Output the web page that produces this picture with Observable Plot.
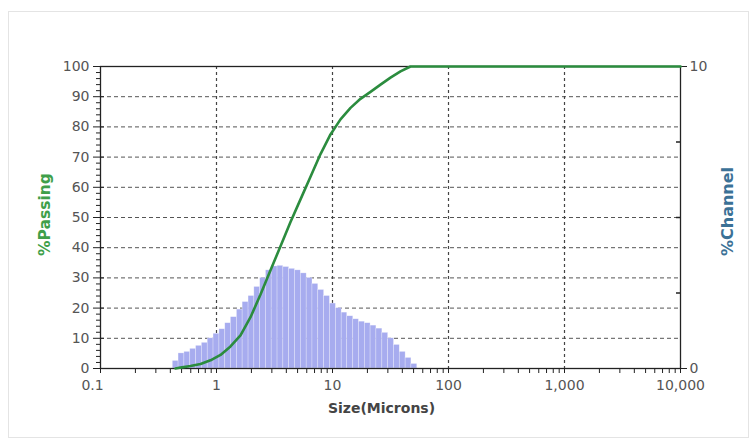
<!DOCTYPE html>
<html>
<head>
<meta charset="utf-8">
<script src="https://cdn.jsdelivr.net/npm/d3@7"></script>
<script src="https://cdn.jsdelivr.net/npm/@observablehq/plot@0.6"></script>
<style>
  html, body { margin: 0; padding: 0; background: #fff; }
  #chart { position: relative; width: 753px; height: 445px; }
  #chart .border { position: absolute; left: 8px; top: 11px; width: 739px; height: 425px; border: 1px solid #e4e4e4; }
  #chart svg { position: absolute; left: 0; top: 0; }
</style>
</head>
<body>
<div id="chart"><div class="border"></div></div>
<script>
// Channel boundaries (microns) for the particle size distribution
const channelEdges = [
  0.42, 0.471, 0.529, 0.594, 0.667, 0.748, 0.84, 0.943, 1.06, 1.19,
  1.33, 1.50, 1.68, 1.89, 2.12, 2.38, 2.67, 2.99, 3.36, 3.77,
  4.23, 4.75, 5.33, 5.99, 6.72, 7.54, 8.47, 9.50, 10.7, 12.0,
  13.4, 15.1, 16.9, 19.0, 21.3, 23.9, 26.9, 30.2, 33.9, 38.0,
  42.7, 47.9, 53.8
];
// % in each channel (right axis, 0-10)
const channelPercent = [
  0.25, 0.5, 0.55, 0.65, 0.75, 0.85, 1.0, 1.15, 1.3, 1.5,
  1.7, 1.95, 2.2, 2.4, 2.7, 3.0, 3.25, 3.38, 3.4, 3.36,
  3.3, 3.25, 3.15, 3.0, 2.8, 2.6, 2.4, 2.15, 2.0, 1.85,
  1.73, 1.63, 1.55, 1.5, 1.42, 1.32, 1.18, 1.0, 0.78, 0.55,
  0.35, 0.15
];
// Cumulative % passing (left axis)
const curveSize = [
  0.443, 0.489, 0.597, 0.728, 0.888, 1.083, 1.32, 1.61, 1.964, 2.395,
  2.921, 3.562, 4.344, 5.298, 6.461, 7.88, 9.61, 11.72, 14.3, 17.43,
  21.26, 25.93, 31.62, 38.56, 47.0, 10000
];
const curvePassing = [
  0, 0.3, 0.8, 1.5, 2.7, 4.5, 7.3, 11, 17, 24.5,
  32.5, 40.5, 48.5, 56, 63.5, 71, 77.5, 82.5, 86.3, 89.3,
  91.6, 94, 96.3, 98.4, 100, 100
];
// Axis ticks
const sizeTicks = [0.1, 1, 10, 100, 1000, 10000];
const sizeGrid = [1, 10, 100, 1000];
const passingTicks = [0, 10, 20, 30, 40, 50, 60, 70, 80, 90, 100];
const passingGrid = [10, 20, 30, 40, 50, 60, 70, 80, 90];
const channelTicks = [0, 10];
const channelMinorTicks = [2.5, 5, 7.5];

const sizeMinor = [];
for (const d of [0.1, 1, 10, 100, 1000]) for (let m = 2; m <= 9; m++) sizeMinor.push(+(d * m).toPrecision(3));
const passingMinor = d3.range(0, 101, 2).filter(v => v % 10 !== 0);

const channels = channelPercent.map((v, i) => ({x1: channelEdges[i], x2: channelEdges[i + 1], pct: v}));
const curve = curveSize.map((s, i) => ({size: s, passing: curvePassing[i]}));

const green = "#2b8c3e";
const labelColor = "#555";
const font = "DejaVu Sans, Verdana, sans-serif";
const fmt = d3.format(",");

const plot = Plot.plot({
  width: 753,
  height: 445,
  marginLeft: 100,
  marginRight: 73,
  marginTop: 66,
  marginBottom: 77,
  style: {fontFamily: font, fontSize: "14px", color: labelColor, background: "transparent"},
  x: {type: "log", domain: [0.1, 10000]},
  y: {domain: [0, 100]},
  marks: [
    Plot.gridY(passingGrid, {stroke: "#555", strokeOpacity: 1, strokeDasharray: "4,3"}),
    Plot.gridX(sizeGrid, {stroke: "#444", strokeOpacity: 1, strokeDasharray: "3,3", strokeWidth: 1.2}),
    Plot.rectY(channels, {
      x1: "x1", x2: "x2", y1: 0, y2: d => d.pct * 10,
      fill: "#a7acef", stroke: "#fff", strokeWidth: 0.6, strokeOpacity: 0.45
    }),
    Plot.frame({stroke: "#222", strokeWidth: 1.3}),
    // left axis: % passing
    Plot.axisY(passingTicks, {anchor: "left", tickSize: 7, tickPadding: 4, fill: labelColor, stroke: "#222", label: null}),
    Plot.axisY(passingMinor, {anchor: "left", tickSize: 4, tickFormat: () => "", stroke: "#222", label: null}),
    Plot.ruleY(passingTicks, {insetRight: 576, stroke: "#222"}),
    // right axis: % channel
    Plot.axisY(channelTicks.map(v => v * 10), {anchor: "right", tickSize: 6, tickPadding: 3, tickFormat: d => String(d / 10), fill: labelColor, stroke: "#222", label: null}),
    Plot.ruleY(channelMinorTicks.map(v => v * 10), {insetLeft: 576, stroke: "#222", strokeWidth: 1.5}),
    // bottom axis: size
    Plot.axisX(sizeTicks, {anchor: "bottom", tickSize: 5, tickPadding: 7, tickFormat: d => d < 1 ? "" : fmt(d), fill: labelColor, stroke: "#222", label: null}),
    Plot.axisX(sizeTicks.slice(0, 1), {anchor: "bottom", tickSize: 0, tickPadding: 12, dx: -8, tickFormat: d => fmt(d), fill: labelColor, label: null}),
    Plot.axisX(sizeMinor, {anchor: "bottom", tickSize: 5, tickFormat: () => "", stroke: "#222", label: null}),
    Plot.line(curve, {x: "size", y: "passing", stroke: green, strokeWidth: 2.6}),
    Plot.text(["Size(Microns)"], {frameAnchor: "bottom", lineAnchor: "middle", dy: 40, dx: -9, text: d => d, fontWeight: "bold", fontSize: 14, fill: "#444"}),
    Plot.text(["%Passing"], {frameAnchor: "left", textAnchor: "middle", dx: -55, dy: -3, rotate: -90, text: d => d, fontWeight: "bold", fontSize: 15.5, fill: "#3f9f4a"}),
    Plot.text(["%Channel"], {frameAnchor: "right", textAnchor: "middle", dx: 47, dy: -6, rotate: -90, text: d => d, fontWeight: "bold", fontSize: 16, fill: "#3b7196"})
  ]
});

document.getElementById("chart").appendChild(plot);
</script>
</body>
</html>
